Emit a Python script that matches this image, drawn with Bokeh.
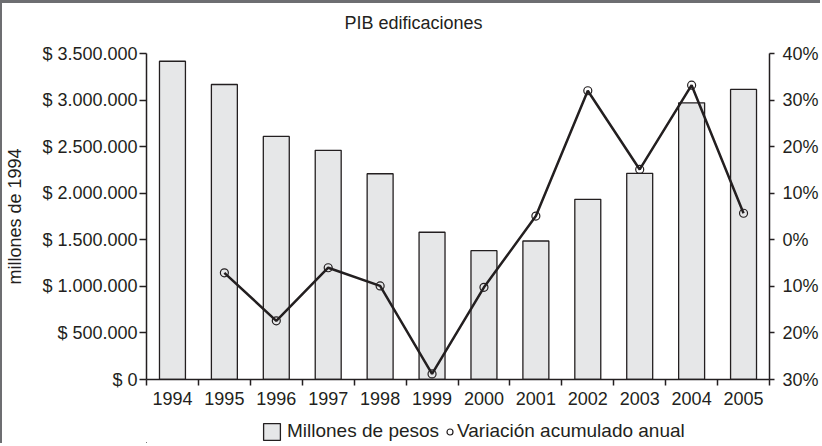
from bokeh.plotting import figure
from bokeh.layouts import column
from bokeh.models import (Range1d, LinearAxis, FixedTicker, Legend, LegendItem,
                          ColumnDataSource)
from bokeh.embed import file_html
from bokeh.resources import INLINE

# ---- data ----
years = ["1994", "1995", "1996", "1997", "1998", "1999",
         "2000", "2001", "2002", "2003", "2004", "2005"]
pib = [3417000, 3167000, 2610000, 2460000, 2209000, 1581000,
       1383000, 1487000, 1934000, 2213000, 2970000, 3114000]
var_years = ["1995", "1996", "1997", "1998", "1999", "2000",
             "2001", "2002", "2003", "2004", "2005"]
variacion = [-7.1, -17.4, -6.0, -9.9, -28.8, -10.2, 5.1, 32.0, 15.1, 33.2, 5.7]
left_ticks = [0, 500000, 1000000, 1500000, 2000000, 2500000, 3000000, 3500000]
left_labels = ["$ 0", "$ 500.000", "$ 1.000.000", "$ 1.500.000",
               "$ 2.000.000", "$ 2.500.000", "$ 3.000.000", "$ 3.500.000"]
pct_ticks = [-30, -20, -10, 0, 10, 20, 30, 40]
pct_labels = ["30%", "20%", "10%", "0%", "10%", "20%", "30%", "40%"]
series_names = ["Millones de pesos", "Variación acumulado anual"]

TXT = "#231f20"
FRAME = "#6d6e71"
FONT = "Liberation Sans"
FS = "18px"
BAR_STYLE = dict(fill_color="#e6e7e8", line_color=TXT, line_width=1.3)
PT_STYLE = dict(marker="circle", fill_color=None, line_color=TXT, line_width=1.2)

pos = {y: i + 0.5 for i, y in enumerate(years)}
bar_src = ColumnDataSource(dict(x=[pos[y] for y in years], pib=pib))
var_src = ColumnDataSource(dict(x=[pos[y] for y in var_years], v=variacion))

p = figure(width=820, height=414, output_backend="svg", toolbar_location=None,
           x_range=Range1d(0, len(years)), y_range=Range1d(left_ticks[0], left_ticks[-1]),
           min_border_left=144, min_border_right=53, min_border_top=50,
           min_border_bottom=38, x_axis_type=None, y_axis_type=None)
p.extra_y_ranges = {"pct": Range1d(pct_ticks[0], pct_ticks[-1])}
p.outline_line_color = None
p.background_fill_color = "white"
p.border_fill_color = "white"
p.styles = {"border-top": f"3px solid {FRAME}", "border-left": f"2px solid {FRAME}"}

def style_axis(ax):
    ax.axis_line_color = TXT
    ax.axis_line_width = 1.5
    ax.major_tick_line_color = TXT
    ax.major_tick_line_width = 1.5
    ax.minor_tick_line_color = TXT
    ax.minor_tick_line_width = 1.5
    ax.major_label_text_font = FONT
    ax.major_label_text_font_size = FS
    ax.major_label_text_color = TXT
    ax.axis_label_text_font = FONT
    ax.axis_label_text_font_size = FS
    ax.axis_label_text_font_style = "normal"
    ax.axis_label_text_color = TXT

# x axis: labels at centers, ticks at category boundaries
xax = LinearAxis(ticker=FixedTicker(ticks=[pos[y] for y in years],
                                    minor_ticks=list(range(len(years) + 1))),
                 major_label_overrides={pos[y]: y for y in years})
style_axis(xax)
xax.major_tick_out = 0
xax.major_tick_in = 0
xax.minor_tick_out = 6
xax.minor_tick_in = 0
xax.major_label_standoff = 6
p.add_layout(xax, "below")

yax = LinearAxis(ticker=FixedTicker(ticks=left_ticks),
                 major_label_overrides=dict(zip(left_ticks, left_labels)),
                 axis_label="millones de 1994")
style_axis(yax)
yax.major_tick_out = 7
yax.major_tick_in = 0
yax.minor_tick_out = 0
yax.major_label_standoff = 2
yax.axis_label_standoff = 14
p.add_layout(yax, "left")

rax = LinearAxis(y_range_name="pct", ticker=FixedTicker(ticks=pct_ticks),
                 major_label_overrides=dict(zip(pct_ticks, pct_labels)))
style_axis(rax)
rax.major_tick_out = 5
rax.major_tick_in = 0
rax.minor_tick_out = 0
rax.major_label_standoff = 8
p.add_layout(rax, "right")

p.vbar(x="x", top="pib", width=0.5, bottom=0, source=bar_src, **BAR_STYLE)
p.line(x="x", y="v", source=var_src, y_range_name="pct",
       line_color=TXT, line_width=2.5)
p.scatter(x="x", y="v", source=var_src, y_range_name="pct", size=8, **PT_STYLE)

p.title.text = "PIB edificaciones"
p.title.text_font = FONT
p.title.text_font_size = FS
p.title.text_font_style = "normal"
p.title.text_color = TXT
p.title.align = "left"
p.title.offset = 198
p.title.standoff = 0
p.title.padding = dict(left=0, right=0, top=0, bottom=21)

# ---- legend strip below the chart (same series, view range holds no marks) ----
p2 = figure(width=820, height=29, output_backend="svg", toolbar_location=None,
            x_range=Range1d(len(years) + 5, len(years) + 6),
            y_range=Range1d(left_ticks[-1] * 3, left_ticks[-1] * 4),
            min_border_left=0, min_border_right=0, min_border_top=0,
            min_border_bottom=0, x_axis_type=None, y_axis_type=None)
p2.outline_line_color = None
p2.grid.visible = False
p2.border_fill_color = "white"
p2.styles = {"border-left": f"2px solid {FRAME}"}
bar_proxy = p2.vbar(x="x", top="pib", width=0.5, bottom=0, source=bar_src, **BAR_STYLE)
pt_proxy = p2.scatter(x="x", y="v", size=8, source=var_src, **PT_STYLE)

def make_legend(label, rend, loc, gw, standoff):
    lg = Legend(items=[LegendItem(label=label, renderers=[rend])], location=loc,
                orientation="horizontal", glyph_width=gw, glyph_height=21,
                label_height=21, label_standoff=standoff, padding=0, margin=0,
                spacing=0, border_line_color=None, background_fill_alpha=0,
                label_text_font=FONT, label_text_font_size="19px",
                label_text_color=TXT)
    p2.add_layout(lg, "center")

make_legend(series_names[0], bar_proxy, (115, 1), 21, 5)
make_legend(series_names[1], pt_proxy, (296, 1), 15, 0)

layout = column(p, p2, spacing=0)
open("out.html", "w").write(file_html(layout, INLINE))
